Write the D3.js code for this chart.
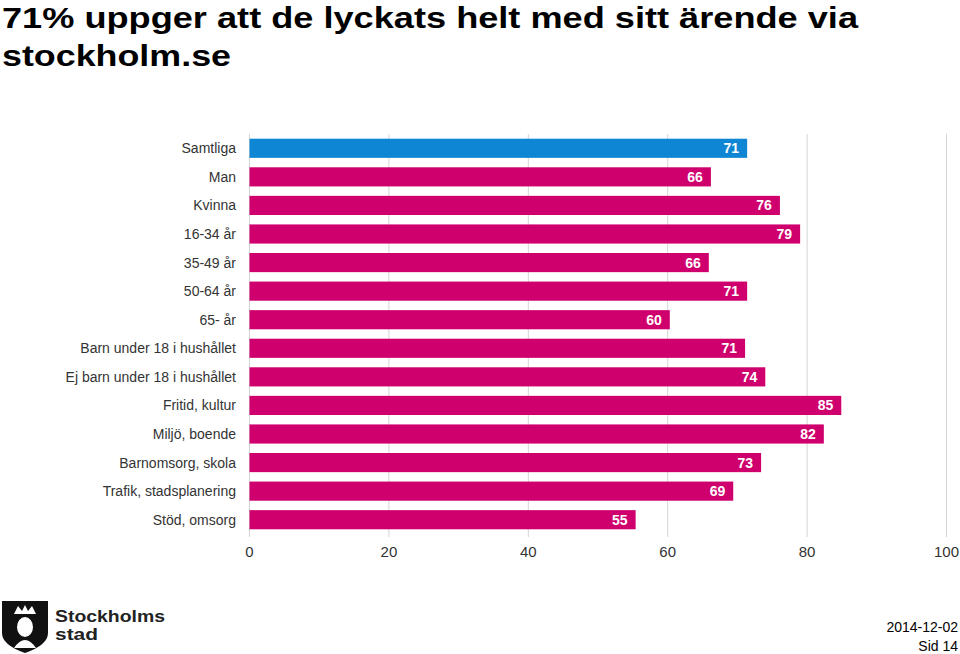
<!DOCTYPE html>
<html><head><meta charset="utf-8">
<script src="https://cdn.jsdelivr.net/npm/d3@7"></script>
<style>body{margin:0;background:#fff;}svg{display:block;font-family:"Liberation Sans",Arial,sans-serif;}</style>
</head><body>
<svg id="c" width="960" height="654"></svg>
<script>
const categories = ["Samtliga","Man","Kvinna","16-34 år","35-49 år","50-64 år","65- år","Barn under 18 i hushållet","Ej barn under 18 i hushållet","Fritid, kultur","Miljö, boende","Barnomsorg, skola","Trafik, stadsplanering","Stöd, omsorg"];
const values = [71.4,66.2,76.1,79.0,65.9,71.4,60.3,71.1,74.0,84.9,82.4,73.4,69.4,55.4];
const xTicks = [0,20,40,60,80,100];
const titleLines = ["71% uppger att de lyckats helt med sitt ärende via","stockholm.se"];
const titleWidths = [856,229];

const svg = d3.select("#c");
const x = d3.scaleLinear().domain([0,100]).range([249.5,946.5]);
const y = d3.scaleBand().domain(categories).range([134,534]).paddingInner(0.33).paddingOuter(0.165);

// title
svg.append("g").selectAll("text").data(titleLines).join("text")
  .attr("x",2).attr("y",(d,i)=>27.5+i*38.5)
  .attr("font-size",30).attr("font-weight","bold").attr("fill","#000")
  .attr("textLength",(d,i)=>titleWidths[i]).attr("lengthAdjust","spacingAndGlyphs")
  .text(d=>d);

// gridlines
svg.append("g").selectAll("line").data(xTicks).join("line")
  .attr("x1",d=>x(d)).attr("x2",d=>x(d)).attr("y1",134).attr("y2",537)
  .attr("stroke","#d4d4d4").attr("stroke-width",1);

// x tick labels
svg.append("g").selectAll("text").data(xTicks).join("text")
  .attr("x",d=>x(d)).attr("y",557).attr("text-anchor","middle")
  .attr("font-size",15).attr("fill","#333").text(d=>d);

// bars
svg.append("g").selectAll("rect").data(values).join("rect")
  .attr("x",x(0)).attr("y",(d,i)=>y(categories[i]))
  .attr("width",d=>x(d)-x(0)).attr("height",y.bandwidth())
  .attr("fill",(d,i)=>i===0?"#0E86D4":"#CF006E");

// value labels
svg.append("g").selectAll("text").data(values).join("text")
  .attr("x",d=>x(d)-8).attr("y",(d,i)=>y(categories[i])+y.bandwidth()/2+5)
  .attr("text-anchor","end").attr("font-size",14).attr("font-weight","bold")
  .attr("fill","#fff").text(d=>Math.round(d));

// category labels
svg.append("g").selectAll("text").data(categories).join("text")
  .attr("x",236).attr("y",d=>y(d)+y.bandwidth()/2+5)
  .attr("text-anchor","end").attr("font-size",14).attr("fill","#333").text(d=>d);

// logo
const logo = svg.append("g");
logo.append("path").attr("d","M2,601 L48,601 L48,633 Q48,645 25,653 Q2,645 2,633 Z").attr("fill","#111");
logo.append("path").attr("d","M14,614 L18,606 L22,611 L25,605 L28,611 L32,606 L36,614 Z").attr("fill","#fff");
logo.append("ellipse").attr("cx",25).attr("cy",627).attr("rx",8).attr("ry",10).attr("fill","#fff");
logo.append("path").attr("d","M14,648 Q25,632 36,648 Z").attr("fill","#fff");
logo.append("text").attr("x",55).attr("y",622).attr("font-size",17).attr("font-weight","bold").attr("fill","#222")
  .attr("textLength",110).attr("lengthAdjust","spacingAndGlyphs").text("Stockholms");
logo.append("text").attr("x",55).attr("y",640).attr("font-size",17).attr("font-weight","bold").attr("fill","#222")
  .attr("textLength",43).attr("lengthAdjust","spacingAndGlyphs").text("stad");

// footer
svg.append("text").attr("x",958).attr("y",632).attr("text-anchor","end").attr("font-size",14).attr("fill","#000").text("2014-12-02");
svg.append("text").attr("x",958).attr("y",651).attr("text-anchor","end").attr("font-size",14).attr("fill","#000").text("Sid 14");
</script>
</body></html>
